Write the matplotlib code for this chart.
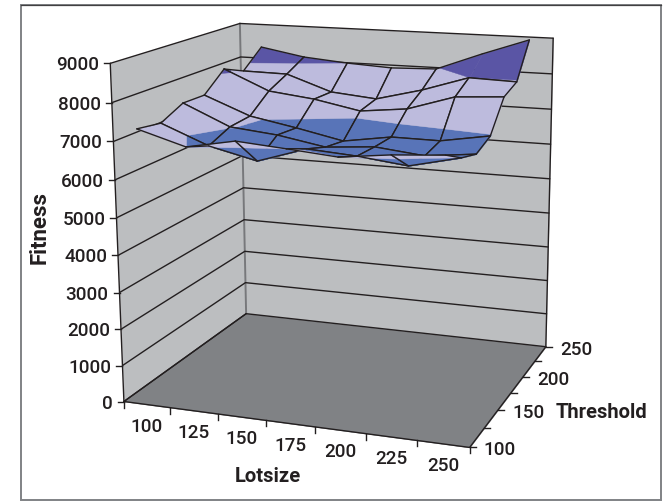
import numpy as np
import matplotlib
matplotlib.use('Agg')
import matplotlib.pyplot as plt
from matplotlib.lines import Line2D
from matplotlib.patches import Rectangle
from matplotlib.transforms import Affine2D
from mpl_toolkits.mplot3d.art3d import Poly3DCollection

W, H = 665, 502

lotsizes = [100, 125, 150, 175, 200, 225, 250]
thresholds = [100, 125, 150, 175, 200, 225, 250]
threshold_labels = [100, 150, 200, 250]
fitness_ticks = [0, 1000, 2000, 3000, 4000, 5000, 6000, 7000, 8000, 9000]

fitness_t100 = [7370, 7000, 7240, 7140, 7030, 7180, 7270]
fitness_t125 = [7270, 6760, 6460, 6870, 6780, 6630, 6930]
fitness_t150 = [7570, 7010, 6880, 6650, 6750, 6610, 6750]
fitness_t175 = [7560, 7060, 6820, 6550, 6750, 6740, 6960]
fitness_t200 = [8080, 7530, 7380, 7130, 7270, 7680, 7760]
fitness_t225 = [7820, 7800, 7360, 7240, 7570, 7990, 7950]
fitness_t250 = [8330, 8100, 7990, 7920, 7960, 8460, 8920]

C_WALL, C_FLOOR, C_LINE = '#BCBEC0', '#808285', '#231F20'
BANDS = [(-1e9, 7000, '#5874B8'), (7000, 8000, '#BDBBDD'), (8000, 1e9, '#5A55A5')]

X0, X1, Y0, Y1 = 87.5, 262.5, 100.0, 250.0
ZTOP = fitness_ticks[-1]

# camera calibrated on the box corners and gridline ends: (x, y, z) -> picture pixel
calib = [
    (X0,Y0,0,124,403),(X1,Y0,0,470,449),(X1,Y1,0,546,347),(X0,Y1,0,245,314),
    (X0,Y0,9000,110,63),(X0,Y1,9000,241,23),(X1,Y1,9000,552,39),
    (X0,Y0,1000,122.7,365.7),(X0,Y0,2000,122,329),(X0,Y0,4000,117,256),(X0,Y0,6000,115,181),
    (X0,Y0,7000,113,144),(X0,Y0,8000,112,105),
    (X0,Y1,4000,243.5,190),(X0,Y1,3000,244,222),(X0,Y1,8000,241,58),
    (X1,Y1,1000,547,315),(X1,Y1,5000,550,180),
]
rows = []
for x, y, z, u, v in calib:
    v = H - v
    p = [x, y, z / 1000.0, 1.0]
    rows.append(p + [0, 0, 0, 0] + [-u * c for c in p])
    rows.append([0, 0, 0, 0] + p + [-v * c for c in p])
P = np.linalg.svd(np.array(rows))[2][-1].reshape(3, 4)
P[:, 2] /= 1000.0
P = P / (P[2] @ np.array([175, 175, 4500, 1.0]))
# 3D axes view box is [-1, 1] in both directions
M = np.vstack([2 * P[0] / W - P[2], 2 * P[1] / H - P[2], P[2] - np.array([0, 0, 0, 0.1]), P[2]])


def px(x, y, z):
    r = P @ np.array([x, y, z, 1.0])
    return r[0] / r[2], r[1] / r[2]


plt.rcParams['font.family'] = ['Roboto', 'Liberation Sans']
fig = plt.figure(figsize=(W / 100, H / 100), dpi=100, facecolor='white')
ax = fig.add_axes([0, 0, 1, 1], projection='3d')
ax.computed_zorder = False
ax.set_proj_type('ortho')
ax.get_proj = lambda: M
ax.apply_aspect = lambda position=None: None
ax.set_axis_off()
ax.patch.set_alpha(0)
PIXEL = Affine2D().scale(2 / W, 2 / H).translate(-1, -1) + ax.transData

order = [0]


def nz():
    order[0] += 1
    return order[0]


def line3(xs, ys, zs, color=C_LINE, lw=1.0):
    ax.plot(xs, ys, zs, color=color, lw=lw, zorder=nz(), solid_capstyle='round')


def poly3(verts, color):
    c = Poly3DCollection(verts, facecolors=color, edgecolors=color, linewidths=0.3)
    c.set_zorder(nz())
    ax.add_collection3d(c, autolim=False)


# walls and floor
poly3([[(X0, Y0, 0), (X0, Y1, 0), (X0, Y1, ZTOP), (X0, Y0, ZTOP)]], C_WALL)
poly3([[(X0, Y1, 0), (X1, Y1, 0), (X1, Y1, ZTOP), (X0, Y1, ZTOP)]], C_WALL)
poly3([[(X0, Y0, 0), (X1, Y0, 0), (X1, Y1, 0), (X0, Y1, 0)]], C_FLOOR)
line3([X0, X0], [Y1, Y1], [0, ZTOP], color='#77787B', lw=1.4)
for z in fitness_ticks:
    line3([X0, X0, X1], [Y0, Y1, Y1], [z, z, z])
line3([X0, X0], [Y0, Y0], [0, ZTOP])
line3([X1, X1], [Y1, Y1], [0, ZTOP])
line3([X0, X1, X1], [Y0, Y0, Y1], [0, 0, 0])
line3([X0, X0], [Y0, Y1], [0, 0])


# surface, back to front, split into value bands
def clip(poly, level, keep_above):
    res = []
    for i, a in enumerate(poly):
        b = poly[(i + 1) % len(poly)]
        ina = (a[2] >= level) == keep_above
        inb = (b[2] >= level) == keep_above
        if ina:
            res.append(a)
        if ina != inb:
            t = (level - a[2]) / (b[2] - a[2])
            res.append(tuple(a[k] + t * (b[k] - a[k]) for k in range(3)))
    return res


Z = np.array([fitness_t100, fitness_t125, fitness_t150, fitness_t175,
              fitness_t200, fitness_t225, fitness_t250], dtype=float)
for j in range(len(thresholds) - 2, -1, -1):
    for i in range(len(lotsizes) - 1):
        quad = [(lotsizes[a], thresholds[b], Z[b, a])
                for a, b in ((i, j), (i + 1, j), (i + 1, j + 1), (i, j + 1))]
        for lo, hi, color in BANDS:
            piece = clip(clip(quad, lo, True), hi, False)
            if len(piece) >= 3:
                poly3([piece], color)
        for k in range(4):
            a, b = quad[k], quad[(k + 1) % 4]
            # the grid segment inside the purple back corner is not drawn
            if a[0] == b[0] == 225 and {a[1], b[1]} == {225, 250}:
                continue
            line3([a[0], b[0]], [a[1], b[1]], [a[2], b[2]])

# ticks and tick labels, placed from the projected axis positions
TICK_KW = dict(fontsize=13.6, fontweight='medium', color=C_LINE, zorder=5000, transform=PIXEL)


def tick(x, y, z, dx, dy):
    a, b = px(x, y, z)
    ax.add_line(Line2D([a, a + dx], [b, b + dy], color=C_LINE, lw=1.0, zorder=4999, transform=PIXEL))
    return a, b


for z in fitness_ticks:
    a, b = tick(X0, Y0, z, -6, 0)
    ax.text2D(a - 11, b - 1, str(z), ha='right', va='center', **TICK_KW)

step = lotsizes[1] - lotsizes[0]
for k in range(len(lotsizes) + 1):
    tick(X0 + k * step, Y0, 0, 0, -6)
for lot in lotsizes:
    a, b = px(lot, Y0, 0)
    ax.text2D(a, b - 21, str(lot), ha='center', va='center', **TICK_KW)

for t in thresholds:
    a, b = tick(X1, t, 0, 6, 0)
    if t in threshold_labels:
        ax.text2D(a + 14, b - 2, str(t), ha='left', va='center', **TICK_KW)

TITLE_KW = dict(fontweight='bold', color=C_LINE,
                ha='center', va='center', transform=PIXEL, zorder=5000)
ax.text2D(40, H - 228, 'Fitness', rotation=90, fontsize=16, **TITLE_KW)
ax.text2D(268, H - 477, 'Lotsize', fontsize=14.5, **TITLE_KW)
ax.text2D(601, H - 413, 'Threshold', fontsize=14.5, **TITLE_KW)

# outer frame
fig.add_artist(Rectangle((21 / W, 1.5 / H), 640 / W, 494.5 / H, transform=fig.transFigure,
                         fill=False, edgecolor='#808285', lw=1.4))
fig.add_artist(Line2D([21 / W, 661 / W], [(H - 6) / H, (H - 6) / H], transform=fig.transFigure,
                      color='#414042', lw=0.9))

ax.viewLim.intervalx = (-1, 1)
ax.viewLim.intervaly = (-1, 1)
fig.savefig('out.png', dpi=100)
